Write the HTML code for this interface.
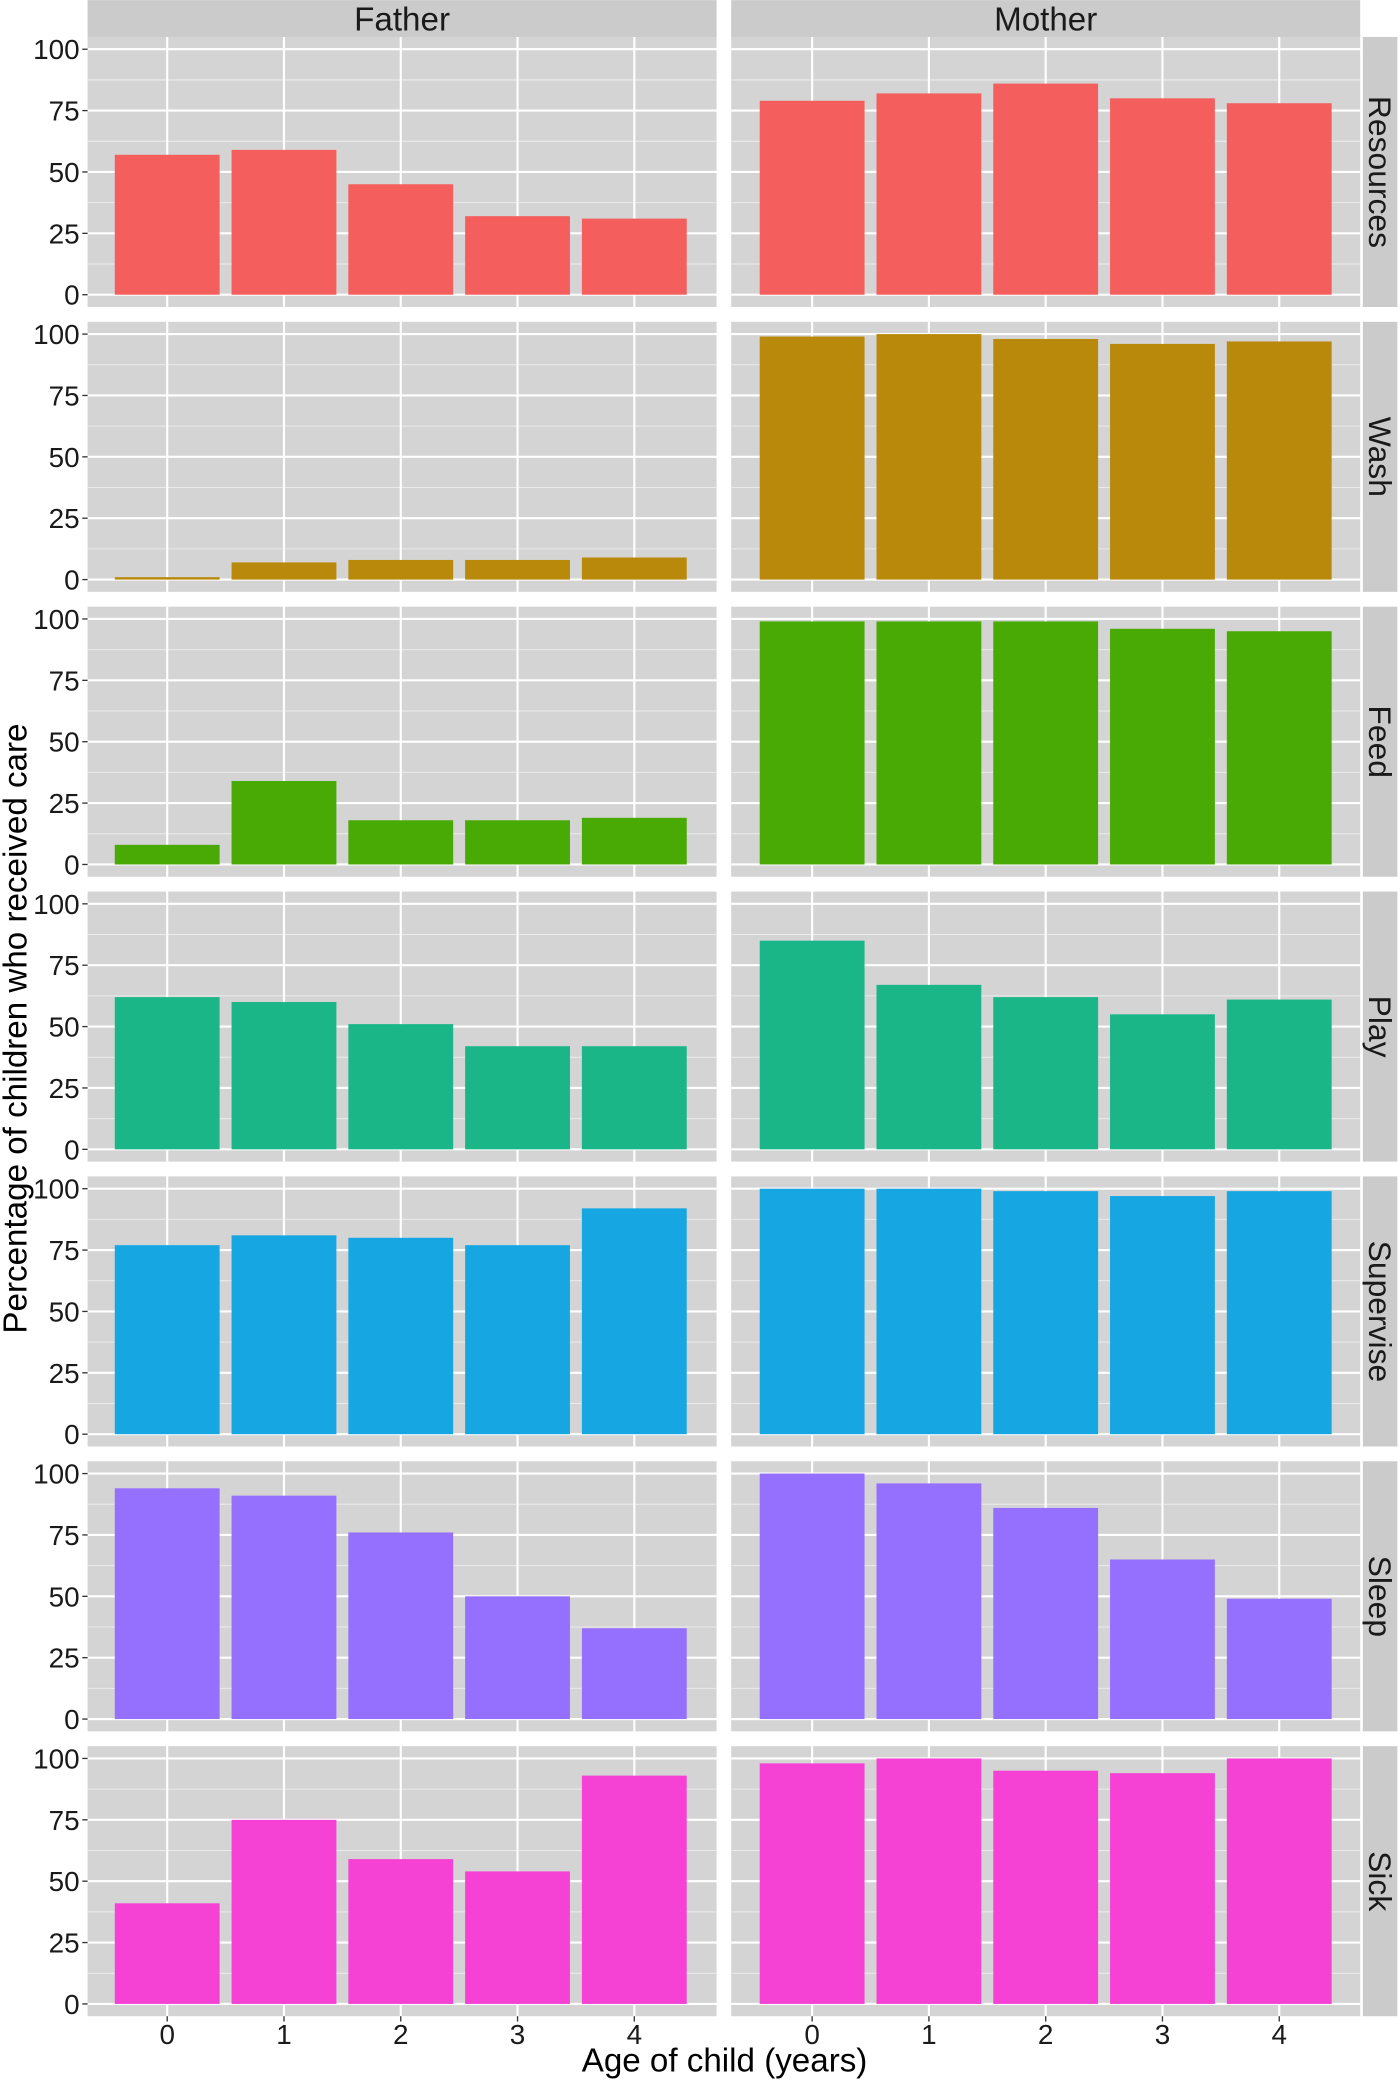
<!DOCTYPE html>
<html><head><meta charset="utf-8"><style>
html,body{margin:0;padding:0;background:#fff;}
svg{display:block;font-family:"Liberation Sans",sans-serif;}
</style></head><body>
<svg id="chart" width="1400" height="2081" viewBox="0 0 1055 1568" xmlns="http://www.w3.org/2000/svg"></svg>
<script>
const categories = ["0","1","2","3","4"];
const parents = ["Father","Mother"];
const activities = ["Resources","Wash","Feed","Play","Supervise","Sleep","Sick"];
const yTicks = [0,25,50,75,100];
const fatherResources=[57,59,45,32,31], motherResources=[79,82,86,80,78];
const fatherWash=[1,7,8,8,9], motherWash=[99,100,98,96,97];
const fatherFeed=[8,34,18,18,19], motherFeed=[99,99,99,96,95];
const fatherPlay=[62,60,51,42,42], motherPlay=[85,67,62,55,61];
const fatherSupervise=[77,81,80,77,92], motherSupervise=[100,100,99,97,99];
const fatherSleep=[94,91,76,50,37], motherSleep=[100,96,86,65,49];
const fatherSick=[41,75,59,54,93], motherSick=[98,100,95,94,100];
const seriesValues=[[fatherResources,motherResources],[fatherWash,motherWash],[fatherFeed,motherFeed],[fatherPlay,motherPlay],[fatherSupervise,motherSupervise],[fatherSleep,motherSleep],[fatherSick,motherSick]];
const colors=["#F45F5D","#B8890A","#49A905","#1AB687","#16A7E3","#9570FE","#F642D4"];

const NS="http://www.w3.org/2000/svg";
const svg=document.getElementById("chart");
function mk(tag,attrs,parent){const e=document.createElementNS(NS,tag);for(const k in attrs)e.setAttribute(k,attrs[k]);(parent||svg).appendChild(e);return e;}
const panelX=[66,551], panelW=474, rowStep=214.67, row0Zero=222, unit=1.85;
const c0=[126,612], step=88;
function xPos(p,i){return c0[p]+i*step;}
function yPos(r,v){return row0Zero+r*rowStep-v*unit;}

parents.forEach((p,pi)=>{
  const r=mk("rect",{x:panelX[pi],y:0,width:panelW,height:28,fill:"#cbcbcb"});
  
  
  const t=mk("text",{x:panelX[pi]+panelW/2,y:23,"text-anchor":"middle","font-size":25,fill:"#1a1a1a"});
  t.textContent=p;
  
  
});
activities.forEach((a,r)=>{
  const top=yPos(r,105), bot=yPos(r,-5);
  const s=mk("rect",{x:1027,y:top,width:26,height:bot-top,fill:"#cbcbcb"});
  
  
  const cy=(top+bot)/2;
  const t=mk("text",{x:1040,y:cy,"text-anchor":"middle","font-size":24,fill:"#1a1a1a",transform:`rotate(90 1040 ${cy})`,"dominant-baseline":"central"});
  t.textContent=a;
  
  
  parents.forEach((p,pi)=>{
    const g=mk("g",{});
    
    
    mk("rect",{x:panelX[pi],y:top,width:panelW,height:bot-top,fill:"#d4d4d4"},g);
    for(let v=12.5;v<100;v+=25){mk("line",{x1:panelX[pi],x2:panelX[pi]+panelW,y1:yPos(r,v),y2:yPos(r,v),stroke:"#ebebeb","stroke-width":0.8},g);}
    yTicks.forEach(v=>mk("line",{x1:panelX[pi],x2:panelX[pi]+panelW,y1:yPos(r,v),y2:yPos(r,v),stroke:"#fff","stroke-width":1.6},g));
    categories.forEach((c,i)=>mk("line",{x1:xPos(pi,i),x2:xPos(pi,i),y1:top,y2:bot,stroke:"#fff","stroke-width":1.6},g));
    seriesValues[r][pi].forEach((v,i)=>{
      const b=mk("rect",{x:xPos(pi,i)-39.5,y:yPos(r,v),width:79,height:v*unit,fill:colors[r]},g);
      
      
    });
  });
  yTicks.forEach(v=>{
    const y=yPos(r,v);
    mk("line",{x1:62,x2:66,y1:y,y2:y,stroke:"#333","stroke-width":1});
    const t=mk("text",{x:60,y:y+7.5,"text-anchor":"end","font-size":21,fill:"#1a1a1a"});
    t.textContent=v;
    
    
  });
});
const lastBot=yPos(6,-5);
parents.forEach((p,pi)=>categories.forEach((c,i)=>{
  mk("line",{x1:xPos(pi,i),x2:xPos(pi,i),y1:lastBot,y2:lastBot+4,stroke:"#333","stroke-width":1});
  const t=mk("text",{x:xPos(pi,i),y:lastBot+21,"text-anchor":"middle","font-size":21,fill:"#1a1a1a"});
  t.textContent=c;
  
  
}));
const xt=mk("text",{x:546,y:1561,"text-anchor":"middle","font-size":25,fill:"#000"});
xt.textContent="Age of child (years)";


const yt=mk("text",{x:20,y:775,"text-anchor":"middle","font-size":25,fill:"#000",transform:"rotate(-90 20 775)"});
yt.textContent="Percentage of children who received care";


</script>
</body></html>
